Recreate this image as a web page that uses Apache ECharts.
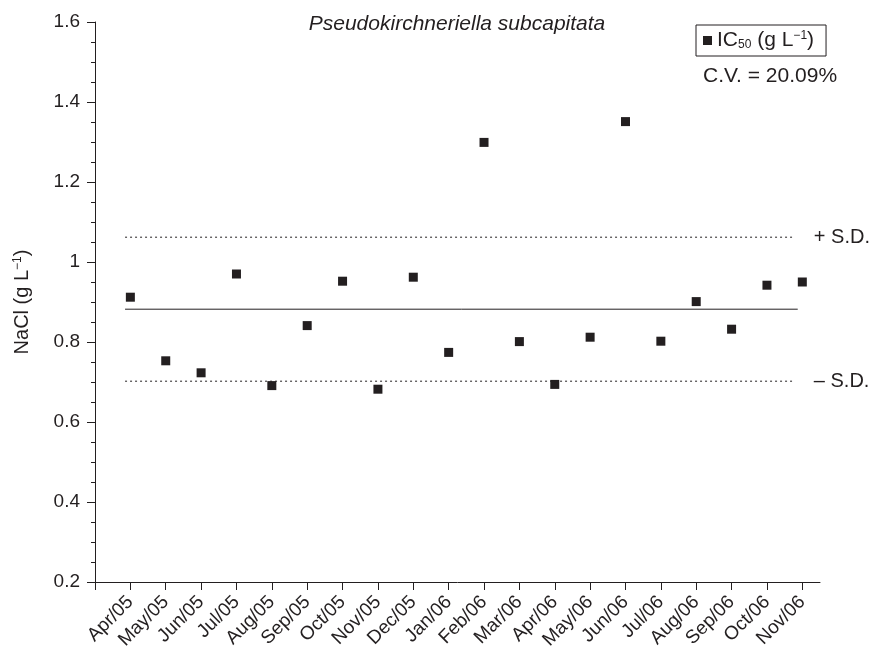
<!DOCTYPE html>
<html>
<head>
<meta charset="utf-8">
<script src="https://cdn.jsdelivr.net/npm/echarts@6/dist/echarts.min.js"></script>
<style>
html,body{margin:0;padding:0;background:#fff;}
#chart{width:875px;height:656px;}
</style>
</head>
<body>
<div id="chart"></div>
<script>
// ---- data ----
var categories = ['Apr/05','May/05','Jun/05','Jul/05','Aug/05','Sep/05','Oct/05','Nov/05','Dec/05','Jan/06',
                  'Feb/06','Mar/06','Apr/06','May/06','Jun/06','Jul/06','Aug/06','Sep/06','Oct/06','Nov/06'];
var ic50Values = [0.912,0.753,0.723,0.970,0.691,0.841,0.952,0.682,0.962,0.774,
                  1.299,0.801,0.694,0.812,1.351,0.802,0.901,0.832,0.942,0.950];
var meanValue = 0.882;
var sdUpper = 1.062;
var sdLower = 0.702;
var meanLineX = [0.85, 19.87];   // x-extent of reference lines (category index units)
var sdLineX = [0.85, 19.76];
var yTicks = [0.2,0.4,0.6,0.8,1,1.2,1.4,1.6];
var titleText = 'Pseudokirchneriella subcapitata';
var cvText = 'C.V. = 20.09%';

var ink = '#231f20';
var font = 'Liberation Sans, Arial, Helvetica, sans-serif';
var xPositions = categories.map(function(c,i){return i+1;});
var xTickValues = [0].concat(xPositions);
var pointData = ic50Values.map(function(v,i){return [xPositions[i], v];});

function refLine(val, xs, label, dashed){
  return {
    type:'line', silent:true, symbol:'none', animation:false,
    data:[[xs[0],val],[xs[1],val]],
    lineStyle:{color:ink, width:1, type: dashed ? [2,3] : 'solid'},
    endLabel:{show:!!label, formatter:label||'', distance:20, color:ink, fontSize:20, fontFamily:font},
    z:1
  };
}

var chart = echarts.init(document.getElementById('chart'), null, {renderer:'canvas'});
chart.setOption({
  animation:false,
  backgroundColor:'#fff',
  grid:{left:95, right:55, top:22, bottom:74, containLabel:false},
  xAxis:{
    type:'value', min:0, max:20.5,
    axisLine:{show:true, lineStyle:{color:ink, width:1}},
    axisTick:{show:true, length:8, lineStyle:{color:ink}, customValues:xTickValues},
    axisLabel:{show:true, rotate:45, margin:17, color:ink, fontSize:19, fontFamily:font,
      customValues:xPositions,
      formatter:function(v){ return categories[Math.round(v)-1] || ''; }},
    splitLine:{show:false}
  },
  yAxis:{
    type:'value', min:0.2, max:1.6, interval:0.2,
    name:'{n|NaCl (g L}{s|\u22121}{n|)}',
    nameLocation:'middle', nameGap:62, nameRotate:90,
    nameTextStyle:{rich:{n:{fontSize:20, color:ink, fontFamily:font}, s:{fontSize:12, color:ink, fontFamily:font, verticalAlign:'top', padding:[0,0,9,0]}}},
    axisLine:{show:true, lineStyle:{color:ink, width:1}},
    axisTick:{show:true, length:8, lineStyle:{color:ink}},
    minorTick:{show:true, splitNumber:4, length:4, lineStyle:{color:ink}},
    axisLabel:{color:ink, fontSize:19, fontFamily:font, margin:15,
      customValues:yTicks,
      formatter:function(v){ return String(Math.round(v*10)/10); }},
    splitLine:{show:false}
  },
  legend:{
    show:true, left:696, top:25,
    data:['IC50'],
    icon:'rect', itemWidth:9, itemHeight:9, itemGap:5,
    borderColor:ink, borderWidth:1, borderRadius:0, padding:[5,12,5,7],
    formatter:function(){ return '{a|IC}{b|50}{a| (g L}{c|\u22121}{a|)}'; },
    textStyle:{color:ink, fontFamily:font, padding:[0,0,0,0],
      rich:{
        a:{fontSize:21, color:ink, fontFamily:font},
        b:{fontSize:12, color:ink, fontFamily:font, verticalAlign:'bottom', padding:[7,0,0,0]},
        c:{fontSize:12, color:ink, fontFamily:font, verticalAlign:'top', padding:[0,0,9,0]}
      }}
  },
  graphic:[
    {type:'text', x:457, y:24, style:{text:titleText, fill:ink, font:'italic 21px ' + font, align:'center', verticalAlign:'middle', textAlign:'center', textVerticalAlign:'middle'}},
    {type:'text', x:703, y:76, style:{text:cvText, fill:ink, font:'21px ' + font, align:'left', verticalAlign:'middle', textVerticalAlign:'middle'}}
  ],
  series:[
    refLine(meanValue, meanLineX, null, false),
    refLine(sdUpper, sdLineX, '+ S.D.', true),
    refLine(sdLower, sdLineX, '\u2013 S.D.', true),
    {
      name:'IC50', type:'scatter', data:pointData,
      symbol:'rect', symbolSize:9,
      itemStyle:{color:ink, opacity:1},
      z:5
    }
  ]
});
</script>
</body>
</html>
